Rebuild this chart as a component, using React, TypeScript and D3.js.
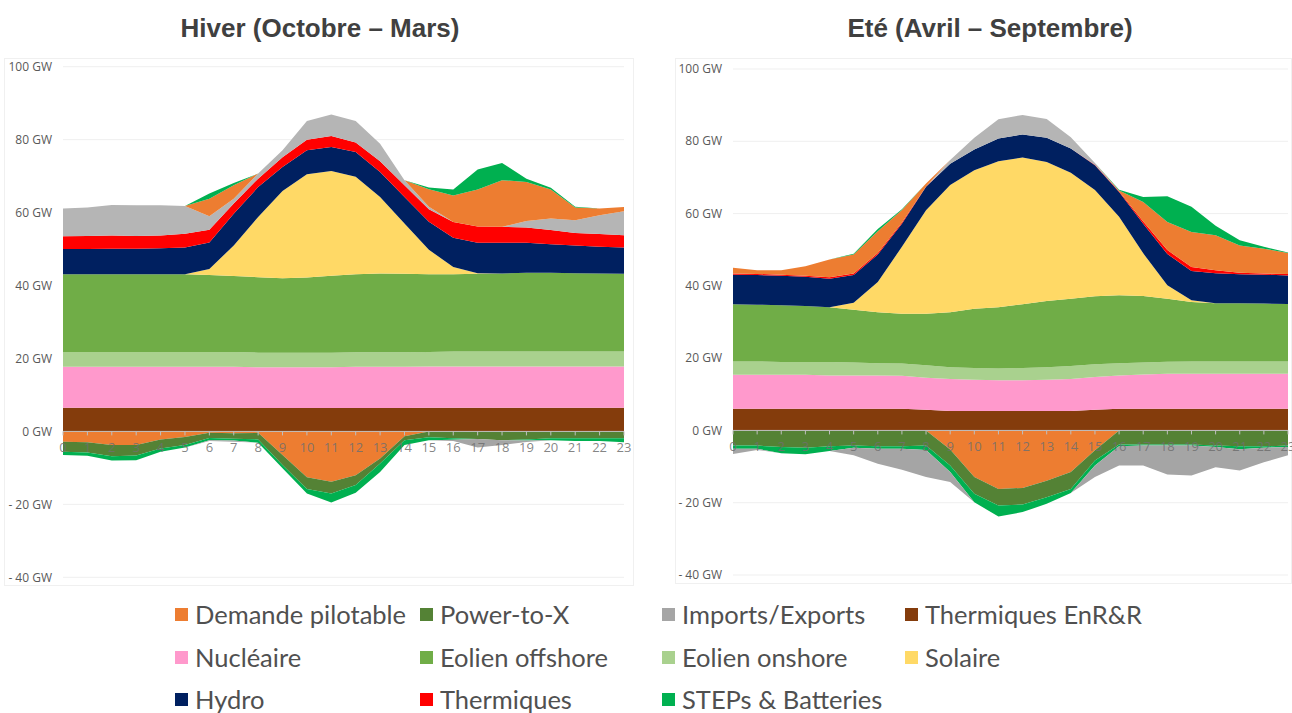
import React from 'react';
import * as d3 from 'd3';

// ---------- categories ----------
const hours = [0, 1, 2, 3, 4, 5, 6, 7, 8, 9, 10, 11, 12, 13, 14, 15, 16, 17, 18, 19, 20, 21, 22, 23];
const yTicks = [100, 80, 60, 40, 20, 0, -20, -40];

// ---------- Hiver (Octobre – Mars) ----------
const winterEnR = [6.5, 6.5, 6.5, 6.5, 6.5, 6.5, 6.5, 6.5, 6.4, 6.4, 6.4, 6.4, 6.4, 6.4, 6.4, 6.5, 6.5, 6.5, 6.5, 6.5, 6.5, 6.5, 6.5, 6.5];
const winterNucleaire = [11.2, 11.2, 11.2, 11.2, 11.2, 11.2, 11.2, 11.2, 11.2, 11.2, 11.2, 11.2, 11.3, 11.3, 11.3, 11.3, 11.3, 11.3, 11.3, 11.3, 11.3, 11.3, 11.3, 11.3];
const winterOnshore = [4.1, 4.1, 4.1, 4.1, 4.1, 4.1, 4.1, 4.1, 4.0, 4.0, 4.0, 4.0, 4.0, 4.0, 4.0, 4.0, 4.1, 4.1, 4.1, 4.1, 4.1, 4.1, 4.1, 4.1];
const winterOffshore = [21.3, 21.3, 21.3, 21.3, 21.3, 21.3, 21.1, 20.8, 20.7, 20.4, 20.6, 21.1, 21.4, 21.6, 21.5, 21.3, 21.2, 21.3, 21.4, 21.6, 21.6, 21.5, 21.4, 21.3];
const winterSolaire = [0, 0, 0, 0, 0, 0, 1.6, 8.4, 16.5, 23.9, 28.3, 28.7, 26.7, 21.0, 13.8, 6.7, 2.0, 0.2, 0, 0, 0, 0, 0, 0];
const winterHydro = [6.9, 6.9, 7.0, 7.0, 7.1, 7.3, 7.3, 8.7, 8.2, 6.6, 6.6, 6.6, 6.8, 6.8, 7.3, 7.7, 8.0, 8.3, 8.4, 8.2, 7.8, 7.6, 7.3, 7.2];
const winterThermiques = [3.5, 3.6, 3.6, 3.5, 3.5, 3.8, 3.5, 2.8, 2.3, 2.7, 2.9, 3.0, 2.6, 3.0, 3.2, 3.4, 4.3, 4.5, 4.4, 4.2, 3.9, 3.4, 3.5, 3.4];
const winterImportsPos = [7.6, 7.8, 8.4, 8.4, 8.3, 7.6, 3.7, 1.3, 1.4, 1.9, 5.1, 5.9, 5.9, 4.8, 1.4, 0.7, 0, 0, 0, 1.8, 3.2, 3.5, 5.2, 6.6];
const winterDemandePos = [0, 0, 0, 0, 0, 0, 4.8, 3.7, 0, 0, 0, 0, 0, 0, 0, 4.8, 7.3, 10.1, 12.8, 10.7, 7.9, 3.5, 1.8, 1.1];
const winterStepsPos = [0, 0, 0, 0, 0, 0, 1.4, 0.6, 0, 0, 0, 0, 0, 0, 0, 0.5, 1.6, 5.5, 4.7, 0.9, 0.5, 0.2, 0, 0];
const winterDemandeNeg = [-2.8, -3.0, -3.7, -3.7, -2.2, -1.5, -0.4, -0.5, -0.4, -6.5, -12.6, -13.8, -12.0, -7.4, -1.3, 0, 0, 0, 0, 0, 0, 0, 0, 0];
const winterP2X = [-2.8, -2.8, -3.1, -2.9, -2.5, -2.2, -1.4, -1.5, -1.8, -2.7, -3.2, -3.2, -2.7, -1.4, -1.1, -1.6, -1.9, -2.1, -2.4, -2.2, -1.9, -1.9, -1.9, -1.9];
const winterStepsNeg = [-0.9, -0.9, -1.2, -1.3, -0.9, -0.7, -0.6, -0.5, -0.9, -0.9, -1.2, -2.5, -2.1, -2.3, -1.3, -0.8, -0.4, 0, 0, -0.3, -0.5, -0.7, -0.7, -1.1];
const winterImportsNeg = [0, 0, 0, 0, 0, 0, -0.2, -0.3, 0, 0, 0, 0, 0, 0, 0, 0, -0.3, -2.3, -1.3, -0.4, 0, 0, 0, 0];

// ---------- Eté (Avril – Septembre) ----------
const summerEnR = [6.0, 6.0, 6.0, 6.0, 6.0, 6.0, 6.0, 6.0, 5.7, 5.4, 5.4, 5.4, 5.4, 5.4, 5.4, 5.7, 6.0, 6.0, 6.0, 6.0, 6.0, 6.0, 6.0, 6.0];
const summerNucleaire = [9.4, 9.4, 9.4, 9.4, 9.2, 9.2, 9.2, 9.1, 8.9, 8.8, 8.6, 8.5, 8.5, 8.6, 8.8, 9.1, 9.2, 9.5, 9.7, 9.7, 9.7, 9.7, 9.7, 9.7];
const summerOnshore = [3.7, 3.7, 3.5, 3.5, 3.7, 3.6, 3.4, 3.4, 3.4, 3.3, 3.3, 3.2, 3.4, 3.5, 3.6, 3.5, 3.4, 3.3, 3.3, 3.4, 3.4, 3.4, 3.4, 3.4];
const summerOffshore = [15.8, 15.7, 15.7, 15.5, 15.2, 14.6, 14.1, 13.8, 14.3, 15.2, 16.4, 17.0, 17.6, 18.3, 18.6, 18.8, 18.8, 18.4, 17.4, 16.4, 16.1, 16.1, 16.0, 15.9];
const summerSolaire = [0, 0, 0, 0, 0, 1.9, 8.4, 18.5, 28.6, 35.2, 38.3, 40.4, 40.6, 38.5, 34.9, 29.4, 21.7, 11.8, 3.8, 0.5, 0, 0, 0, 0];
const summerHydro = [8.2, 8.2, 8.2, 8.1, 7.9, 7.7, 7.6, 6.4, 6.5, 5.9, 5.7, 6.3, 6.4, 6.7, 6.7, 6.9, 6.9, 8.2, 8.6, 8.1, 8.3, 8.0, 8.0, 7.9];
const summerThermiques = [0.3, 0.3, 0.3, 0.3, 0.4, 0.4, 0.4, 0.3, 0.1, 0, 0, 0, 0, 0, 0, 0.1, 0.2, 0.6, 1.1, 1.1, 0.8, 0.4, 0.3, 0.4];
const summerImportsPos = [0, 0, 0, 0, 0, 0, 0, 0, 0, 1.0, 3.3, 5.3, 5.4, 5.2, 3.1, 0.5, 0, 0, 0, 0, 0, 0, 0, 0];
const summerDemandePos = [1.6, 1.0, 1.2, 2.6, 4.9, 5.3, 6.0, 3.5, 0.8, 0, 0, 0, 0, 0, 0, 0, 0.2, 5.4, 7.8, 9.7, 9.7, 7.6, 6.9, 5.8];
const summerStepsPos = [0, 0, 0, 0, 0, 0.2, 0.6, 0.2, 0, 0, 0, 0, 0, 0, 0, 0, 0.2, 1.4, 7.1, 7.0, 2.6, 1.4, 0.5, 0.1];
const summerDemandeNeg = [0, 0, 0, 0, 0, 0, 0, 0, 0, -5.3, -12.9, -16.2, -15.9, -13.9, -11.5, -5.5, 0, 0, 0, 0, 0, 0, 0, 0];
const summerP2X = [-4.2, -4.2, -4.6, -4.8, -4.4, -4.2, -4.4, -4.4, -4.2, -4.4, -4.6, -4.6, -4.6, -4.6, -4.7, -2.8, -3.9, -3.9, -3.9, -3.9, -4.2, -4.4, -4.4, -4.2];
const summerStepsNeg = [-0.9, -0.9, -1.7, -1.8, -1.3, -0.6, -0.7, -0.7, -1.2, -1.8, -2.4, -3.0, -2.1, -1.8, -1.1, -1.4, -0.5, -0.3, -0.3, -0.3, -0.4, -0.8, -0.4, -0.4];
const summerImportsNeg = [-1.4, -0.3, 0, 0, 0, -2.1, -4.1, -5.8, -7.5, -2.8, 0, 0, 0, 0, 0, -3.2, -5.3, -5.5, -8.0, -8.3, -5.6, -5.9, -4.0, -2.3];

// ---------- legend / colours ----------
const legendNames = [
  'Demande pilotable', 'Power-to-X', 'Imports/Exports', 'Thermiques EnR&R',
  'Nucléaire', 'Eolien offshore', 'Eolien onshore', 'Solaire',
  'Hydro', 'Thermiques', 'STEPs & Batteries',
];
const legendColors = [
  '#ED7D31', '#548235', '#A5A5A5', '#843C0C',
  '#FF99CC', '#70AD47', '#A9D18E', '#FFD966',
  '#002060', '#FF0000', '#00B050',
];

const COLORS: Record<string, string> = {
  enr: '#843C0C',
  nuc: '#FF99CC',
  onshore: '#A9D18E',
  offshore: '#70AD47',
  solaire: '#FFD966',
  hydro: '#002060',
  thermiques: '#FF0000',
  importsPos: '#B5B5B5',
  demandePos: '#ED7D31',
  stepsPos: '#00B050',
  demandeNeg: '#ED7D31',
  p2x: '#548235',
  stepsNeg: '#00B050',
  importsNeg: '#A5A5A5',
};

const posKeys = ['enr', 'nuc', 'onshore', 'offshore', 'solaire', 'hydro', 'thermiques', 'importsPos', 'demandePos', 'stepsPos'];
const negKeys = ['demandeNeg', 'p2x', 'stepsNeg', 'importsNeg'];

type Row = { hour: number; [k: string]: number };

function buildRows(arrs: Record<string, number[]>): Row[] {
  return hours.map((h, i) => {
    const r: Row = { hour: h };
    Object.keys(arrs).forEach((k) => { r[k] = arrs[k][i]; });
    return r;
  });
}

const winterRows = buildRows({
  enr: winterEnR, nuc: winterNucleaire, onshore: winterOnshore, offshore: winterOffshore,
  solaire: winterSolaire, hydro: winterHydro, thermiques: winterThermiques,
  importsPos: winterImportsPos, demandePos: winterDemandePos, stepsPos: winterStepsPos,
  demandeNeg: winterDemandeNeg, p2x: winterP2X, stepsNeg: winterStepsNeg, importsNeg: winterImportsNeg,
});
const summerRows = buildRows({
  enr: summerEnR, nuc: summerNucleaire, onshore: summerOnshore, offshore: summerOffshore,
  solaire: summerSolaire, hydro: summerHydro, thermiques: summerThermiques,
  importsPos: summerImportsPos, demandePos: summerDemandePos, stepsPos: summerStepsPos,
  demandeNeg: summerDemandeNeg, p2x: summerP2X, stepsNeg: summerStepsNeg, importsNeg: summerImportsNeg,
});

type PanelProps = {
  title: string;
  titleX: number;
  rows: Row[];
  xRange: [number, number];
  yRange: [number, number];
  labelRight: number;
  frame: { x: number; y: number; w: number; h: number };
};

const AXIS_FONT = "'Open Sans', 'Noto Sans', sans-serif";

function Panel({ title, titleX, rows, xRange, yRange, labelRight, frame }: PanelProps) {
  const x = d3.scaleLinear().domain([0, 23]).range(xRange);
  const y = d3.scaleLinear().domain([-40, 100]).range(yRange);

  // cumulative stacks (offset none): positives upward, negatives downward from 0
  const posStack = d3.stack<Row>().keys(posKeys).offset(d3.stackOffsetNone)(rows);
  const negStack = d3.stack<Row>().keys(negKeys).offset(d3.stackOffsetNone)(rows);

  const area = d3.area<d3.SeriesPoint<Row>>()
    .x((d) => x(d.data.hour))
    .y0((d) => y(d[0]))
    .y1((d) => y(d[1]))
    .curve(d3.curveLinear);

  const fmt = (v: number) => (v < 0 ? `- ${-v} GW` : `${v} GW`);
  const y0 = y(0);

  return (
    <g>
      <rect x={frame.x} y={frame.y} width={frame.w} height={frame.h} fill="none" stroke="#F0F0F0" strokeWidth={1} />
      <text x={titleX} y={37} textAnchor="middle" fontFamily="'Liberation Sans', Arial, sans-serif"
        fontWeight="bold" fontSize={26} fill="#404040">{title}</text>
      {yTicks.filter((t) => t !== 0).map((t) => (
        <line key={t} x1={xRange[0]} x2={xRange[1]} y1={y(t)} y2={y(t)} stroke="#EFEFEF" strokeWidth={1} />
      ))}
      {yTicks.map((t) => (
        <text key={t} x={labelRight} y={y(t)} dy="0.35em" textAnchor="end" fontFamily={AXIS_FONT}
          fontSize={12} fill="#595959">{fmt(t)}</text>
      ))}
      {posStack.map((s) => (
        <path key={s.key} d={area(s) || ''} fill={COLORS[s.key]} />
      ))}
      {negStack.map((s) => (
        <path key={s.key} d={area(s) || ''} fill={COLORS[s.key]} />
      ))}
      <line x1={xRange[0]} x2={xRange[1]} y1={y0} y2={y0} stroke="#BFBFBF" strokeWidth={1} />
      {hours.map((h) => (
        <line key={h} x1={x(h)} x2={x(h)} y1={y0} y2={y0 + 4} stroke="#BFBFBF" strokeWidth={1} />
      ))}
      {hours.map((h) => (
        <text key={h} x={x(h)} y={y0 + 21} textAnchor="middle" fontFamily={AXIS_FONT}
          fontSize={13} fill="#6F6F6F" fillOpacity={0.85}>{h}</text>
      ))}
    </g>
  );
}

const legendColX = [175, 420, 662, 905];
const legendRowY = [615, 658, 700];

function Legend() {
  return (
    <g>
      {legendNames.map((name, i) => {
        const col = i % 4;
        const row = Math.floor(i / 4);
        const lx = legendColX[col];
        const ly = legendRowY[row];
        return (
          <g key={name}>
            <rect x={lx} y={ly - 7} width={13} height={13} fill={legendColors[i]} />
            <text x={lx + 20} y={ly} dy="0.36em" fontFamily="Lato, 'Noto Sans', sans-serif"
              fontSize={25.5} fill="#505050">{name}</text>
          </g>
        );
      })}
    </g>
  );
}

export default function App() {
  return (
    <svg width={1292} height={713} style={{ position: 'absolute', left: 0, top: 0, background: '#fff' }}>
      <rect x={0} y={0} width={1292} height={713} fill="#fff" />
      <Panel
        title="Hiver (Octobre – Mars)"
        titleX={320}
        rows={winterRows}
        xRange={[63, 624]}
        yRange={[577.3, 66.7]}
        labelRight={52}
        frame={{ x: 4.5, y: 58.5, w: 629, h: 527 }}
      />
      <Panel
        title="Eté (Avril – Septembre)"
        titleX={990}
        rows={summerRows}
        xRange={[733, 1288]}
        yRange={[575, 69]}
        labelRight={722}
        frame={{ x: 675.5, y: 58.5, w: 616, h: 525 }}
      />
      <Legend />
    </svg>
  );
}
